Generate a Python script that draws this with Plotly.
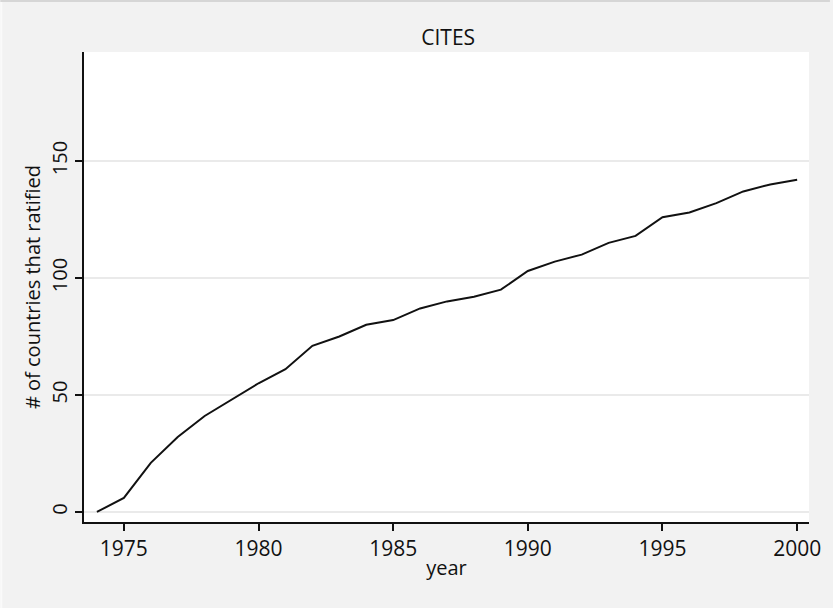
import plotly.graph_objects as go

years = list(range(1974, 2001))
ratified = [0, 6, 21, 32, 41, 48, 55, 61, 71, 75, 80, 82, 87, 90, 92, 95,
            103, 107, 110, 115, 118, 126, 128, 132, 137, 140, 142]
x_ticks = [1975, 1980, 1985, 1990, 1995, 2000]
y_ticks = [0, 50, 100, 150]

FONT = "Open Sans, sans-serif"
INK = "#111111"

W, H = 833, 608
ML, MR, MT, MB = 84, 21, 52, 86
PW, PH = W - ML - MR, H - MT - MB

fig = go.Figure(go.Scatter(x=years, y=ratified, mode="lines",
                           line=dict(color=INK, width=2)))

fig.update_layout(
    width=W, height=H,
    paper_bgcolor="#f2f2f2", plot_bgcolor="white",
    margin=dict(l=ML, r=MR, t=MT, b=MB),
    showlegend=False,
    title=dict(text="CITES", x=0.538, xanchor="center", y=1 - 38/608, yanchor="middle",
               font=dict(family=FONT, size=21, color=INK)),
    shapes=[
        # thin frame line along the top edge of the image
        dict(type="rect", xref="paper", yref="paper",
             x0=-ML / PW, x1=1 + MR / PW, y0=1 + (MT - 2) / PH, y1=1 + MT / PH,
             fillcolor="#d6d6d6", line=dict(width=0), layer="above"),
        dict(type="rect", xref="paper", yref="paper",
             x0=-ML / PW, x1=-(ML - 2) / PW, y0=-MB / PH, y1=1 + (MT - 2) / PH,
             fillcolor="#fafafa", line=dict(width=0), layer="above"),
    ],
)
fig.update_xaxes(
    range=[1973.52, 2000.44], tickvals=x_ticks, ticks="outside", ticklen=7,
    tickwidth=2, tickcolor=INK, showline=True, linecolor=INK, linewidth=2,
    showgrid=False, zeroline=False,
    tickfont=dict(family=FONT, size=21, color=INK),
    title=dict(text="year", font=dict(family=FONT, size=20, color=INK), standoff=0),
)
fig.update_yaxes(
    range=[-4.3, 196.6], tickvals=y_ticks, ticks="outside", ticklen=7,
    tickwidth=2, tickcolor=INK, showline=True, linecolor=INK, linewidth=2,
    showgrid=True, gridcolor="#eaeaea", gridwidth=2, zeroline=False,
    tickangle=-90,
    tickfont=dict(family=FONT, size=20, color=INK),
    title=dict(text="# of countries that ratified",
               font=dict(family=FONT, size=20, color=INK), standoff=0),
)

fig.write_html("out.html", config={"displayModeBar": False},
               post_script="document.body.style.margin='0';")
